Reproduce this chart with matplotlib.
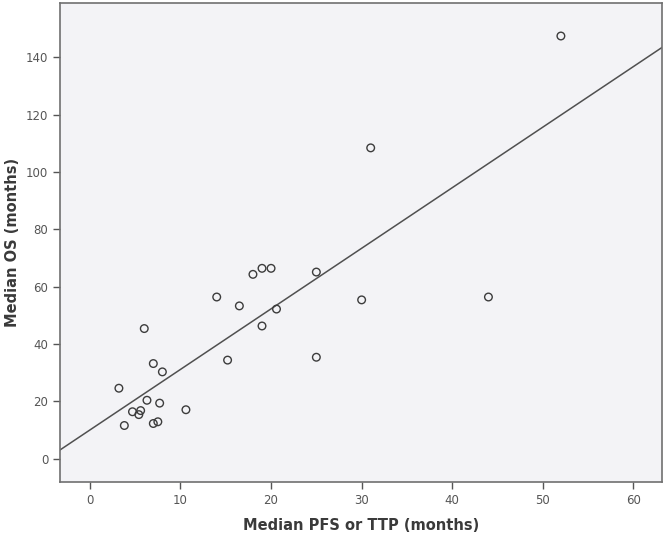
import matplotlib
matplotlib.use("Agg")
import matplotlib.pyplot as plt
import numpy as np

# Median PFS/TTP vs median OS (months), one point per study
pfs = [52.0, 31.0, 44.0, 30.0, 25.0, 25.0, 14.0, 16.5, 20.6, 19.0,
       6.0, 7.0, 8.0, 15.2, 3.2, 6.3, 7.7, 10.6, 4.7, 5.6,
       5.4, 3.8, 7.0, 7.5, 18.0, 19.0, 20.0]
os_ = [147.4, 108.4, 56.4, 55.4, 65.1, 35.4, 56.4, 53.3, 52.2, 46.3,
       45.4, 33.2, 30.3, 34.4, 24.6, 20.4, 19.4, 17.1, 16.4, 16.8,
       15.4, 11.6, 12.3, 12.9, 64.3, 66.4, 66.4]

x_ticks = [0, 10, 20, 30, 40, 50, 60]
y_ticks = [0, 20, 40, 60, 80, 100, 120, 140]

fig = plt.figure(figsize=(6.67, 5.33), dpi=100)
ax = fig.add_axes([0.09, 0.0962, 0.903, 0.8976])
ax.set_facecolor('#F3F3F6')

ax.scatter(pfs, os_, s=30, facecolors='none', edgecolors='#3c3c3c', linewidths=1.0, zorder=3)

# least squares fit line across the whole x range
xlim = (-3.3, 63.2)
slope, intercept = np.polyfit(pfs, os_, 1)
xl = np.array(xlim)
ax.plot(xl, intercept + slope * xl, color='#505050', linewidth=1.1, zorder=2)

ax.set_xlim(*xlim)
ax.set_ylim(-8.0, 158.8)
ax.set_xticks(x_ticks)
ax.set_yticks(y_ticks)

for s in ax.spines.values():
    s.set_color('#707070')
    s.set_linewidth(1.2)
ax.tick_params(direction='out', length=5, width=1.0, color='#555555',
               labelcolor='#555555', labelsize=8.5)

ax.set_xlabel('Median PFS or TTP (months)', fontsize=10.5, fontweight='bold',
              color='#3a3a3a', labelpad=8)
ax.set_ylabel('Median OS (months)', fontsize=10.5, fontweight='bold',
              color='#3a3a3a', labelpad=4)

fig.savefig('out.png', dpi=100)
